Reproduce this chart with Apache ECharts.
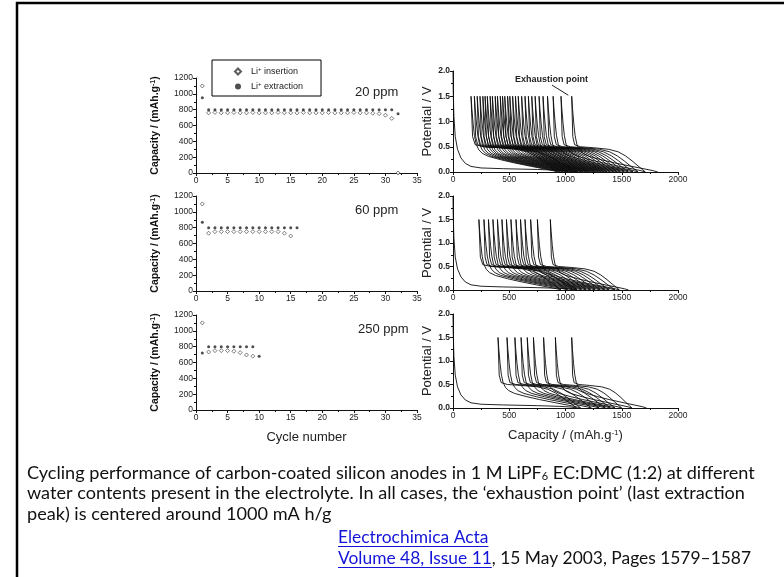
<!DOCTYPE html>
<html>
<head>
<meta charset="utf-8">
<script src="https://cdn.jsdelivr.net/npm/echarts@6/dist/echarts.min.js"></script>
<style>
  html, body { margin: 0; padding: 0; background: #fff; }
  #chart { width: 784px; height: 577px; }
</style>
</head>
<body>
<div id="chart"></div>
<script>
// ---- Cycling data: capacity (mAh/g) per cycle, one pair of arrays per water content ----
const insertion20  = [1100, 760, 765, 760, 760, 765, 760, 760, 765, 760, 760, 760, 765, 760, 760, 760,
                      765, 760, 760, 760, 765, 760, 760, 760, 765, 760, 760, 755, 750, 730, 690, 0];
const extraction20 = [950, 800, 800, 800, 800, 800, 800, 800, 800, 800, 800, 800, 800, 800, 800, 800,
                      800, 800, 800, 800, 800, 800, 800, 800, 800, 800, 800, 800, 800, 800, 800, 750];
const insertion60  = [1100, 730, 750, 750, 750, 750, 750, 750, 750, 750, 750, 750, 750, 730, 695];
const extraction60 = [870, 800, 800, 800, 800, 800, 800, 800, 800, 800, 800, 800, 800, 800, 800, 800];
const insertion250  = [1100, 733, 750, 750, 750, 742, 725, 695, 680];
const extraction250 = [720, 800, 800, 800, 800, 800, 800, 800, 800, 680];

// ---- Voltage profiles: capacity where each extraction peak sits and where each insertion ends ----
const firstInsertionEnd = 1100;
const spikes20 = [160, 190, 215, 240, 265, 285, 305, 330, 350, 375, 395, 420, 440, 460, 485, 505,
                  530, 555, 580, 610, 640, 670, 700, 730, 765, 800, 840, 890, 960, 1055];
const ends20   = [930, 955, 980, 1005, 1025, 1050, 1070, 1095, 1115, 1140, 1160, 1185, 1205, 1225, 1250, 1270,
                  1295, 1320, 1345, 1370, 1400, 1430, 1460, 1490, 1525, 1560, 1600, 1645, 1710, 1820];
const spikes60 = [230, 275, 315, 355, 395, 435, 475, 515, 560, 600, 640, 690, 750, 865];
const ends60   = [960, 1020, 1065, 1105, 1145, 1185, 1225, 1265, 1310, 1350, 1390, 1440, 1480, 1560];
const spikes250 = [400, 480, 550, 605, 660, 715, 805, 910, 1055];
const ends250   = [1135, 1230, 1300, 1355, 1400, 1440, 1500, 1590, 1720];

// Curve shapes: first lithiation (capacity, V); later half-cycles as (fraction of span, V)
const firstCycleCurve = [[0, 2.0], [2, 1.6], [8, 1.1], [20, 0.7], [40, 0.45], [70, 0.28], [110, 0.17],
                         [160, 0.11], [250, 0.08], [450, 0.065], [750, 0.05], [950, 0.035], [1050, 0.02], [1100, 0]];
const insertionShape  = [[0, 1.5], [0.01, 1.25], [0.025, 0.95], [0.04, 0.72], [0.06, 0.55], [0.09, 0.44],
                         [0.13, 0.37], [0.2, 0.31], [0.35, 0.24], [0.5, 0.18], [0.7, 0.11], [0.85, 0.06],
                         [0.95, 0.025], [1, 0]];
const extractionShape = [[0, 0], [0.04, 0.05], [0.1, 0.12], [0.18, 0.22], [0.27, 0.32], [0.37, 0.4],
                         [0.5, 0.45], [0.7, 0.48], [0.88, 0.5], [0.96, 0.54], [0.985, 0.7], [1, 1.5]];

const ppmLabels = ['20 ppm', '60 ppm', '250 ppm'];
const cycleTicks = [0, 35, 5];
const capacityTicks = [0, 1200, 200];
const potentialTicks = [0, 2, 0.5];
const specCapTicks = [0, 2000, 500];

// ---- helpers ----
const AX_FONT = "'Liberation Sans', Arial, sans-serif";
const CAP_FONT = "Lato, 'Liberation Sans', sans-serif";

function cyclePoints(values) {
  return values.map((v, i) => [i + 1, v]);
}

// Chains the half-cycles into one continuous potential trace
function voltageTrace(spikes, ends) {
  const pts = firstCycleCurve.map(p => [p[0] * firstInsertionEnd / 1100, p[1]]);
  let prevEnd = firstInsertionEnd;
  spikes.forEach((s, i) => {
    extractionShape.slice(1).forEach(([g, v]) => pts.push([prevEnd - g * (prevEnd - s), v]));
    insertionShape.slice(1).forEach(([f, v]) => pts.push([s + f * (ends[i] - s), v]));
    prevEnd = ends[i];
  });
  return pts;
}

const leftTops = [78, 196, 315];
const rightTops = [71, 196, 314];
const rightHeights = [101, 94, 94];

const grids = [];
const xAxes = [];
const yAxes = [];
const series = [];

const axisLineStyle = { show: true, lineStyle: { color: '#111', width: 1 } };
const tickStyle = { show: true, length: 3, lineStyle: { color: '#111', width: 1 } };
const minorStyle = { show: true, splitNumber: 2, length: 2, lineStyle: { color: '#111', width: 1 } };
const labelStyle = { fontSize: 8.5, fontFamily: AX_FONT, color: '#222', margin: 3, formatter: v => String(v) };

const leftData = [
  [insertion20, extraction20],
  [insertion60, extraction60],
  [insertion250, extraction250]
];
const rightData = [
  [spikes20, ends20],
  [spikes60, ends60],
  [spikes250, ends250]
];

for (let i = 0; i < 3; i++) {
  grids.push({ left: 196, width: 221, top: leftTops[i], height: 95 });
  xAxes.push({
    type: 'value', gridIndex: i, min: cycleTicks[0], max: cycleTicks[1], interval: cycleTicks[2],
    axisLine: { ...axisLineStyle, onZero: false }, axisTick: tickStyle, minorTick: minorStyle,
    splitLine: { show: false }, axisLabel: labelStyle,
    name: i === 2 ? 'Cycle number' : '', nameLocation: 'middle', nameGap: 21,
    nameTextStyle: { fontSize: 13, fontFamily: AX_FONT, color: '#222' }
  });
  yAxes.push({
    type: 'value', gridIndex: i, min: capacityTicks[0], max: capacityTicks[1], interval: capacityTicks[2],
    axisLine: axisLineStyle, axisTick: tickStyle, minorTick: minorStyle,
    splitLine: { show: false }, axisLabel: labelStyle,
    name: 'Capacity / (mAh.g{sup|-1})', nameLocation: 'middle', nameRotate: 90, nameGap: 35,
    nameTextStyle: {
      fontSize: 10.5, fontWeight: 'bold', fontFamily: AX_FONT, color: '#111',
      rich: { sup: { fontSize: 7, fontWeight: 'bold', fontFamily: AX_FONT, verticalAlign: 'top', lineHeight: 7 } }
    }
  });
  series.push({
    name: 'insertion', type: 'scatter', xAxisIndex: i, yAxisIndex: i,
    data: cyclePoints(leftData[i][0]), symbol: 'diamond', symbolSize: 4,
    itemStyle: { color: '#fff', borderColor: '#333', borderWidth: 0.8 }
  });
  series.push({
    name: 'extraction', type: 'scatter', xAxisIndex: i, yAxisIndex: i,
    data: cyclePoints(leftData[i][1]), symbol: 'circle', symbolSize: 3,
    itemStyle: { color: '#222' }
  });
}

for (let i = 0; i < 3; i++) {
  const gi = 3 + i;
  grids.push({ left: 453, width: 225, top: rightTops[i], height: rightHeights[i] });
  xAxes.push({
    type: 'value', gridIndex: gi, min: specCapTicks[0], max: specCapTicks[1], interval: specCapTicks[2],
    axisLine: { ...axisLineStyle, onZero: false }, axisTick: tickStyle, minorTick: minorStyle,
    splitLine: { show: false }, axisLabel: labelStyle,
    name: i === 2 ? 'Capacity / (mAh.g{sup|-1})' : '', nameLocation: 'middle', nameGap: 21,
    nameTextStyle: {
      fontSize: 13, fontFamily: AX_FONT, color: '#222',
      rich: { sup: { fontSize: 8, fontFamily: AX_FONT, color: '#222', verticalAlign: 'top', lineHeight: 8 } }
    }
  });
  yAxes.push({
    type: 'value', gridIndex: gi, min: potentialTicks[0], max: potentialTicks[1], interval: potentialTicks[2],
    axisLine: axisLineStyle, axisTick: tickStyle, minorTick: minorStyle,
    splitLine: { show: false },
    axisLabel: { ...labelStyle, fontWeight: 'bold', formatter: v => v.toFixed(1) },
    name: 'Potential / V', nameLocation: 'middle', nameRotate: 90, nameGap: 19,
    nameTextStyle: { fontSize: 13, fontFamily: AX_FONT, color: '#222' }
  });
  const sp = rightData[i][0];
  const s = {
    type: 'line', xAxisIndex: gi, yAxisIndex: gi, data: voltageTrace(sp, rightData[i][1]),
    showSymbol: false, symbol: 'none', smooth: false,
    lineStyle: { color: '#0c0c0c', width: 0.9 }
  };
  if (i === 0) {
    s.markLine = {
      silent: true, symbol: ['none', 'none'], label: { show: false },
      lineStyle: { color: '#222', width: 1, type: 'solid' },
      data: [[{ coord: [880, 1.72] }, { coord: [sp[sp.length - 1] - 30, 1.52] }]]
    };
  }
  series.push(s);
}

// ---- caption ----
const captionLines = [
  'Cycling performance of carbon-coated silicon anodes in 1 M LiPF{sub|6} EC:DMC (1:2) at different',
  'water contents present in the electrolyte. In all cases, the \u2018exhaustion point\u2019 (last extraction',
  'peak) is centered around 1000 mA h/g'
];
const journalName = 'Electrochimica Acta';
const issueText = 'Volume 48, Issue 11';
const pageText = ', 15 May 2003, Pages 1579\u20131587';

const CAP_SIZE = 18.1;
const LINK_SIZE = 17.4;
const measureCtx = document.createElement('canvas').getContext('2d');
measureCtx.font = LINK_SIZE + 'px ' + CAP_FONT;
const w = t => measureCtx.measureText(t).width;

const LINK = '#1414d8';
const linkX = 338;
const graphics = [
  { type: 'polyline', shape: { points: [[17, 577], [17, 3], [784, 3]] },
    style: { stroke: '#000', lineWidth: 2.5, fill: null } },
  { type: 'text', style: { x: 515, y: 80, text: 'Exhaustion point', fontSize: 9, fontWeight: 'bold',
    fontFamily: AX_FONT, fill: '#222', verticalAlign: 'middle' } }
];
captionLines.forEach((t, k) => {
  graphics.push({ type: 'text', style: {
    x: 27, y: 473 + k * 20.5, text: t, fontSize: CAP_SIZE, fontFamily: CAP_FONT, fill: '#111',
    verticalAlign: 'middle',
    rich: { sub: { fontSize: 11, fontFamily: CAP_FONT, fill: '#111', verticalAlign: 'bottom', lineHeight: 11, padding: [9, 0, 0, 0] } }
  } });
});
graphics.push({ type: 'text', style: { x: linkX, y: 537, text: journalName, fontSize: LINK_SIZE,
  fontFamily: CAP_FONT, fill: LINK, verticalAlign: 'middle' } });
graphics.push({ type: 'line', shape: { x1: linkX, y1: 546.5, x2: linkX + w(journalName), y2: 546.5 },
  style: { stroke: LINK, lineWidth: 1 } });
graphics.push({ type: 'text', style: { x: linkX, y: 558, text: issueText, fontSize: LINK_SIZE,
  fontFamily: CAP_FONT, fill: LINK, verticalAlign: 'middle' } });
graphics.push({ type: 'line', shape: { x1: linkX, y1: 567.5, x2: linkX + w(issueText), y2: 567.5 },
  style: { stroke: LINK, lineWidth: 1 } });
graphics.push({ type: 'text', style: { x: linkX + w(issueText), y: 558, text: pageText, fontSize: LINK_SIZE,
  fontFamily: CAP_FONT, fill: '#111', verticalAlign: 'middle' } });

const chart = echarts.init(document.getElementById('chart'), null, { renderer: 'canvas' });
chart.setOption({
  animation: false,
  backgroundColor: '#fff',
  title: ppmLabels.map((t, i) => ({
    text: t, left: i === 2 ? 353 : 350, top: leftTops[i] + 3,
    textStyle: { fontSize: 13, fontWeight: 'normal', fontFamily: AX_FONT, color: '#222' }
  })),
  legend: {
    left: 212, top: 60, orient: 'vertical',
    padding: [6, 18, 4, 22], itemGap: 4, itemWidth: 6, itemHeight: 6,
    borderColor: '#000', borderWidth: 1,
    data: ['insertion', 'extraction'],
    formatter: n => 'Li{sup|+} ' + n,
    textStyle: {
      fontSize: 9, fontFamily: AX_FONT, color: '#222', lineHeight: 11, padding: [0, 0, 0, 5],
      rich: { sup: { fontSize: 6, fontFamily: AX_FONT, color: '#222', verticalAlign: 'top', lineHeight: 6 } }
    }
  },
  grid: grids,
  xAxis: xAxes,
  yAxis: yAxes,
  series: series,
  graphic: graphics
});
</script>
</body>
</html>
